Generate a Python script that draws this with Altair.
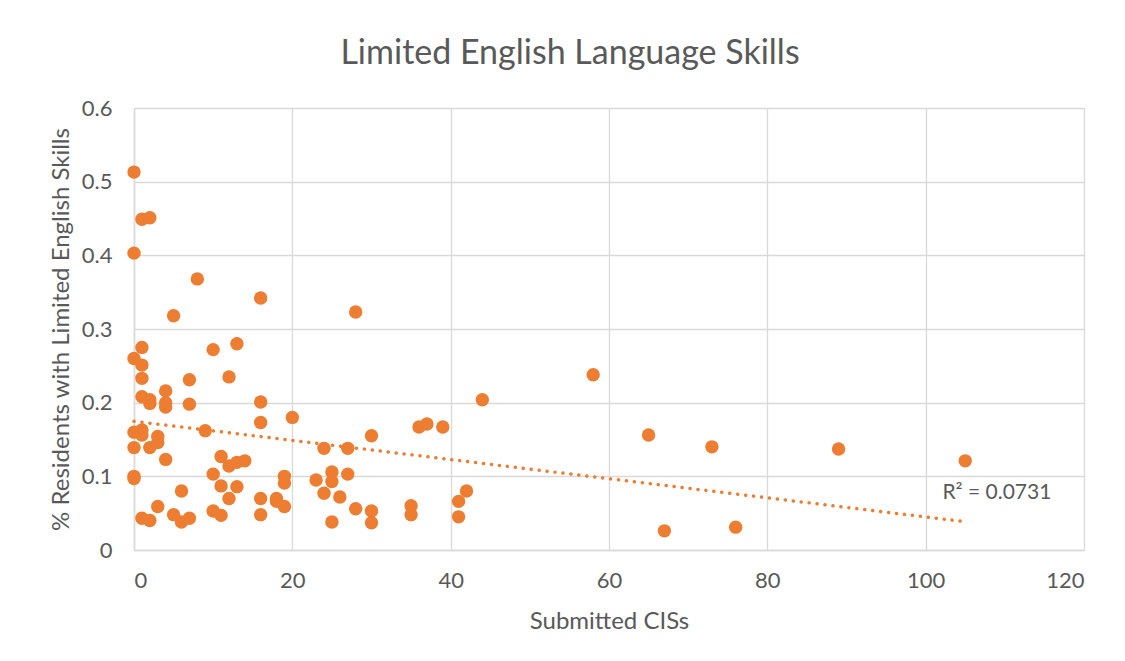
import altair as alt
import pandas as pd

cis = [0, 1, 2, 0, 8, 16, 5, 28, 0, 1, 10, 13, 1, 1, 7, 12, 1, 2, 2, 4, 4, 4, 7, 16, 20,
       16, 9, 0, 1, 1, 3, 3, 2, 0, 4, 0, 0, 6, 3, 1, 2, 5, 6, 7, 11, 12, 13, 14, 10, 11,
       13, 12, 10, 11, 16, 16, 18, 18, 19, 19, 19, 44, 36, 37, 39, 30, 24, 27, 23, 25, 25,
       27, 24, 26, 28, 30, 30, 25, 35, 35, 41, 42, 41, 58, 65, 67, 73, 76, 89, 105]
share = [0.513, 0.449, 0.451, 0.403, 0.368, 0.342, 0.318, 0.323, 0.260, 0.275, 0.272, 0.280,
         0.251, 0.233, 0.231, 0.235, 0.208, 0.204, 0.199, 0.216, 0.200, 0.194, 0.198, 0.201,
         0.180, 0.173, 0.162, 0.160, 0.163, 0.156, 0.154, 0.146, 0.139, 0.139, 0.123, 0.100,
         0.097, 0.080, 0.059, 0.043, 0.040, 0.048, 0.038, 0.043, 0.127, 0.114, 0.119, 0.121,
         0.103, 0.087, 0.086, 0.070, 0.053, 0.047, 0.070, 0.048, 0.070, 0.066, 0.100, 0.091,
         0.059, 0.204, 0.167, 0.171, 0.167, 0.155, 0.138, 0.138, 0.095, 0.106, 0.093, 0.103,
         0.077, 0.072, 0.056, 0.053, 0.037, 0.038, 0.060, 0.048, 0.066, 0.080, 0.045, 0.238,
         0.156, 0.026, 0.140, 0.031, 0.137, 0.121]

r2_label = "R² = 0.0731"
r2_pos = [109, 0.077]

df = pd.DataFrame({"cis": cis, "share": share})

FONT = "Lato"
GRAY = "#595959"
ORANGE = "#ED7D31"

x = alt.X("cis:Q", title="Submitted CISs",
          scale=alt.Scale(domain=[0, 120], nice=False),
          axis=alt.Axis(values=[0, 20, 40, 60, 80, 100, 120], labelPadding=20, titlePadding=18))
y = alt.Y("share:Q", title="% Residents with Limited English Skills",
          scale=alt.Scale(domain=[0, 0.6], nice=False),
          axis=alt.Axis(values=[0, 0.1, 0.2, 0.3, 0.4, 0.5, 0.6], format=".1~f",
                        labelPadding=22, titlePadding=8))

base = alt.Chart(df)

points = base.mark_circle(size=180, opacity=1, color=ORANGE).encode(x=x, y=y)

trend = base.transform_regression("cis", "share", extent=[0, 105]).mark_line(
    color=ORANGE, strokeWidth=3.5, strokeDash=[0.1, 7.9], strokeCap="round"
).encode(x="cis:Q", y="share:Q")

label = alt.Chart(pd.DataFrame({"t": [r2_label], "x": [r2_pos[0]], "y": [r2_pos[1]]})).mark_text(
    font=FONT, fontSize=21, color=GRAY
).encode(x="x:Q", y="y:Q", text="t:N")

chart = alt.layer(trend, points, label).properties(
    width=950, height=442,
    title=alt.TitleParams("Limited English Language Skills", fontSize=34, font=FONT,
                          color=GRAY, fontWeight="normal", anchor="middle", dx=-39, offset=26),
    autosize=alt.AutoSizeParams(type="none"),
    padding={"left": 126, "top": 100, "right": 33, "bottom": 103},
).configure_view(stroke=None).configure_axis(
    gridColor="#D9D9D9", domainColor="#D9D9D9", ticks=False,
    labelFont=FONT, labelFontSize=22, labelColor=GRAY,
    titleFont=FONT, titleFontSize=24, titleColor=GRAY, titleFontWeight="normal",
    domainWidth=1.5, gridWidth=1.3
)

chart.save("out.html", embed_options={"renderer": "svg", "actions": False})
